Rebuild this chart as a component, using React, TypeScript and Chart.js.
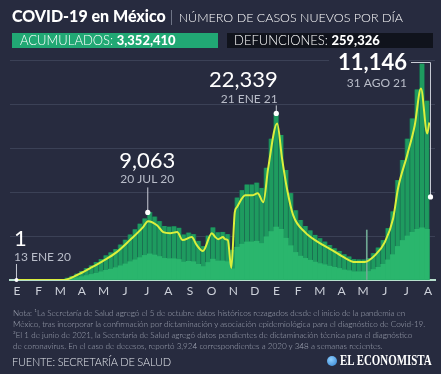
import React, { useEffect, useRef } from 'react';
import { Chart, registerables } from 'chart.js';

Chart.register(...registerables);

const MONTH_LABELS = ['E', 'F', 'M', 'A', 'M', 'J', 'J', 'A', 'S', 'O', 'N', 'D', 'E', 'F', 'M', 'A', 'M', 'J', 'J', 'A'];

// weekly maxima of daily new cases (weeks starting 13 Jan 2020)
const WEEK_HIGH = [
  0, 0, 0, 0, 0, 0, 0, 0, 10, 60,
  250, 500, 800, 1150, 1550, 1900, 2350, 2750, 3250, 3650,
  4100, 4700, 5350, 6050, 6750, 7500, 8200, 9063, 8450, 7850,
  7200, 7100, 7150, 6950, 6050, 6300, 6100, 5200, 4500, 5900,
  7000, 6350, 6400, 6100, 4000, 11000, 12000, 12750, 12750, 13000,
  12300, 15000, 18900, 22339, 19400, 14700, 11600, 9300, 8000, 7200,
  6600, 6000, 5550, 5100, 4650, 4200, 3850, 3400, 3100, 2750,
  2700, 2700, 2900, 3550, 4300, 5300, 6900, 9150, 13350, 16050,
  18900, 21600, 25500, 28950, 24000,
];

// weekly minima (weekend reports)
const WEEK_LOW = [
  0, 0, 0, 0, 0, 0, 0, 0, 4, 20,
  100, 200, 300, 450, 600, 750, 900, 1100, 1300, 1450,
  1650, 1900, 2150, 2450, 2700, 3000, 3300, 3500, 3350, 3150,
  2900, 2850, 2850, 2750, 2400, 2500, 2450, 2100, 1800, 2350,
  2800, 2550, 2550, 2450, 1500, 4400, 4800, 5100, 5100, 5200,
  4900, 5800, 6500, 7100, 6800, 5600, 4600, 3700, 3200, 2900,
  2650, 2400, 2200, 2050, 1850, 1700, 1550, 1350, 1250, 1100,
  1100, 1100, 1150, 1400, 1700, 2100, 2700, 3400, 4500, 5300,
  5900, 6400, 6800, 7000, 6800,
];

// smoothed curve (days since 13 Jan 2020)
const AVG_DAYS = [0, 68, 88, 107, 125, 145, 164, 183, 190, 203, 212, 222, 232, 240, 253, 260, 269, 282, 287, 291, 298, 301, 305, 310, 315, 318, 330, 340, 348, 356, 363, 376, 383, 390, 399, 416, 435, 455, 474, 488, 502, 517, 531, 543, 550, 563, 574, 583, 592, 595];
const AVG_VALUES = [0, 0, 670, 1600, 2540, 3740, 5350, 7090, 7890, 7350, 6420, 6280, 6420, 5350, 5750, 4700, 3880, 6280, 5750, 5480, 5750, 5480, 5350, 1600, 9100, 9760, 11360, 11360, 11630, 10430, 14970, 20990, 16310, 12300, 8690, 6420, 5080, 4010, 2940, 2410, 2410, 3340, 5080, 8290, 12300, 16710, 20720, 25670, 19650, 21120];

const SPIKE_DAYS = [505];
const SPIKE_VALUES = [6700];

const HIGHLIGHTS = [
  { day: 0, value: 1, label: '1', date: '13 ENE 20' },
  { day: 189, value: 9063, label: '9,063', date: '20 JUL 20' },
  { day: 374, value: 22339, label: '22,339', date: '21 ENE 21' },
  { day: 596, value: 11146, label: '11,146', date: '31 AGO 21' },
];

const NOTE_LINES = [
  'Nota: ¹La Secretaría de Salud agregó el 5 de octubre datos históricos rezagados desde el inicio de la pandemia en',
  'México, tras incorporar la confirmación por dictaminación y asociación epidemiológica para el diagnóstico de Covid-19.',
  '²El 1 de junio de 2021, la Secretaría de Salud agregó datos pendientes de dictaminación técnica para el diagnóstico',
  'de coronavirus. En el caso de decesos, reportó 3,924 correspondientes a 2020 y 348 a semanas recientes.',
];

const BG = '#272b3f';

const highlightPlugin = {
  id: 'highlights',
  afterDatasetsDraw(chart: any) {
    const { ctx, scales, chartArea } = chart;
    const xs = scales.x;
    const ys = scales.y;
    ctx.save();
    HIGHLIGHTS.forEach((h, i) => {
      const px = xs.getPixelForValue(h.day);
      const py = ys.getPixelForValue(h.value);
      ctx.strokeStyle = '#c9ccd6';
      ctx.lineWidth = 1;
      let tx = px;
      let nb = 0;
      let db = 0;
      let align: CanvasTextAlign = 'center';
      let bold = false;
      if (i === 0) {
        align = 'left'; tx = px - 2; nb = py - 34; db = py - 19;
        ctx.beginPath(); ctx.moveTo(px + 0.5, py - 16); ctx.lineTo(px + 0.5, py); ctx.stroke();
      } else if (i === 1) {
        align = 'center'; tx = px; nb = py - 44; db = py - 29;
        ctx.beginPath(); ctx.moveTo(px + 0.5, py - 25); ctx.lineTo(px + 0.5, py); ctx.stroke();
      } else if (i === 2) {
        align = 'right'; tx = px + 2; nb = py - 26; db = py - 10;
        ctx.beginPath(); ctx.moveTo(px + 0.5, py - 8); ctx.lineTo(px + 0.5, py); ctx.stroke();
      } else {
        align = 'right'; bold = true; tx = px - 23; nb = chartArea.top + 10; db = chartArea.top + 27;
        ctx.fillStyle = BG;
        ctx.fillRect(tx - 78, chartArea.top - 8, 80, 18);
        ctx.beginPath();
        ctx.moveTo(tx + 4, chartArea.top + 2.5);
        ctx.lineTo(px + 0.5, chartArea.top + 2.5);
        ctx.lineTo(px + 0.5, py);
        ctx.stroke();
      }
      ctx.textAlign = align;
      ctx.textBaseline = 'alphabetic';
      ctx.fillStyle = '#ffffff';
      ctx.font = (bold ? '700 ' : '400 ') + '22px Lato';
      ctx.fillText(h.label, tx, nb);
      ctx.fillStyle = '#b9bdc9';
      ctx.font = '400 12px Lato';
      ctx.fillText(h.date, tx, db);
      ctx.fillStyle = '#ffffff';
      ctx.beginPath();
      ctx.arc(px + 0.5, py, i === 0 ? 2 : 2.6, 0, Math.PI * 2);
      ctx.fill();
    });
    ctx.restore();
  },
};

export default function App() {
  const ref = useRef<HTMLCanvasElement | null>(null);

  useEffect(() => {
    if (!ref.current) return;
    const weekX = (k: number) => 7 * k + 3.5;
    const chart = new Chart(ref.current, {
      type: 'bar',
      data: {
        datasets: [
          {
            type: 'line',
            data: AVG_DAYS.map((d, i) => ({ x: d, y: AVG_VALUES[i] })),
            borderColor: '#dcef3c',
            borderWidth: 2,
            pointRadius: 0,
            cubicInterpolationMode: 'monotone',
            order: 0,
          } as any,
          {
            data: SPIKE_DAYS.map((d, i) => ({ x: d, y: SPIKE_VALUES[i] })),
            backgroundColor: '#6fa893',
            barThickness: 1,
            grouped: false,
            order: 1,
          } as any,
          {
            data: WEEK_LOW.map((v, k) => ({ x: weekX(k), y: v })),
            backgroundColor: '#2ab66d',
            barThickness: 4.9,
            grouped: false,
            order: 2,
          } as any,
          {
            data: WEEK_HIGH.map((v, k) => ({ x: weekX(k), y: v })),
            backgroundColor: '#1e9b5f',
            barThickness: 3.4,
            grouped: false,
            order: 3,
          } as any,
          {
            data: WEEK_HIGH.map((v, k) => ({ x: weekX(k), y: v })),
            backgroundColor: '#1b6a50',
            barThickness: 4.9,
            grouped: false,
            order: 4,
          } as any,
        ],
      },
      options: {
        animation: false,
        responsive: false,
        maintainAspectRatio: false,
        layout: { padding: { left: 10, right: 6, top: 60, bottom: 0 } },
        plugins: { legend: { display: false }, tooltip: { enabled: false } },
        scales: {
          x: {
            type: 'linear',
            offset: false,
            min: -8.6,
            max: 603.2,
            grid: { display: false, drawTicks: false, offset: false },
            border: { display: true, color: '#b7dfcd', width: 2 },
            afterBuildTicks: (axis: any) => {
              axis.ticks = MONTH_LABELS.map((_, i) => ({ value: 1.44 + 31.14 * i }));
            },
            afterFit: (axis: any) => {
              axis.height = 94;
              axis.paddingLeft = 0;
              axis.paddingRight = 0;
            },
            ticks: {
              autoSkip: false,
              maxRotation: 0,
              padding: 4,
              color: '#cdd1da',
              font: { family: 'Lato', size: 12 },
              callback: (_v: any, i: number) => MONTH_LABELS[i],
            },
          },
          y: {
            min: 0,
            max: 29500,
            ticks: { display: false, stepSize: 5900 },
            grid: { color: '#3b4156', lineWidth: 1, drawTicks: false },
            border: { display: false },
            afterFit: (axis: any) => {
              axis.width = 0;
            },
          },
        },
      } as any,
      plugins: [highlightPlugin],
    });
    return () => chart.destroy();
  }, []);

  const abs = (s: React.CSSProperties): React.CSSProperties => ({ position: 'absolute', whiteSpace: 'nowrap', ...s });

  return (
    <div style={{ position: 'fixed', left: 0, top: 0, width: 441, height: 374, background: BG, overflow: 'hidden', fontFamily: 'Lato, sans-serif' }}>
      <canvas ref={ref} width={441} height={374} style={{ position: 'absolute', left: 0, top: 0, width: 441, height: 374 }} />
      <div style={abs({ left: 12, top: 6, color: '#fff', fontSize: 16, lineHeight: '20px' })}>
        <span style={{ fontWeight: 900 }}>COVID-19 en México</span>
        <span style={{ color: '#9aa0b2', fontWeight: 300, margin: '0 5px 0 4px' }}>|</span>
        <span style={{ fontWeight: 300, fontSize: 12.5 }}>NÚMERO DE CASOS NUEVOS POR DÍA</span>
      </div>
      <div style={abs({ left: 12, top: 33, width: 206, height: 15, background: '#21a874', color: '#fff', fontSize: 13, lineHeight: '15px', paddingLeft: 8, boxSizing: 'border-box' })}>
        <span style={{ fontWeight: 300 }}>ACUMULADOS: </span><span style={{ fontWeight: 900 }}>3,352,410</span>
      </div>
      <div style={abs({ left: 227, top: 33, width: 206, height: 15, background: '#10131c', color: '#fff', fontSize: 13, lineHeight: '15px', paddingLeft: 7, boxSizing: 'border-box' })}>
        <span style={{ fontWeight: 300 }}>DEFUNCIONES: </span><span style={{ fontWeight: 900 }}>259,326</span>
      </div>
      {NOTE_LINES.map((t, i) => (
        <div key={i} style={abs({ left: 13, top: 308 + i * 11, color: '#a3a8b6', fontSize: 8.1, lineHeight: '11px', fontWeight: 300 })}>{t}</div>
      ))}
      <div style={abs({ left: 12, top: 355, color: '#e1e4ea', fontSize: 11, lineHeight: '14px', fontWeight: 300, letterSpacing: -0.2 })}>FUENTE: SECRETARÍA DE SALUD</div>
      <div style={abs({ left: 327, top: 356, width: 10, height: 10, borderRadius: 5, background: 'radial-gradient(circle at 40% 35%, #8fd0ff, #2f7fd0)' })} />
      <div style={abs({ left: 340, top: 352, color: '#fff', fontSize: 14, lineHeight: '18px', fontWeight: 700, fontFamily: '"Liberation Serif", serif', transform: 'scaleX(0.78)', transformOrigin: 'left center' })}>EL ECONOMISTA</div>
    </div>
  );
}
